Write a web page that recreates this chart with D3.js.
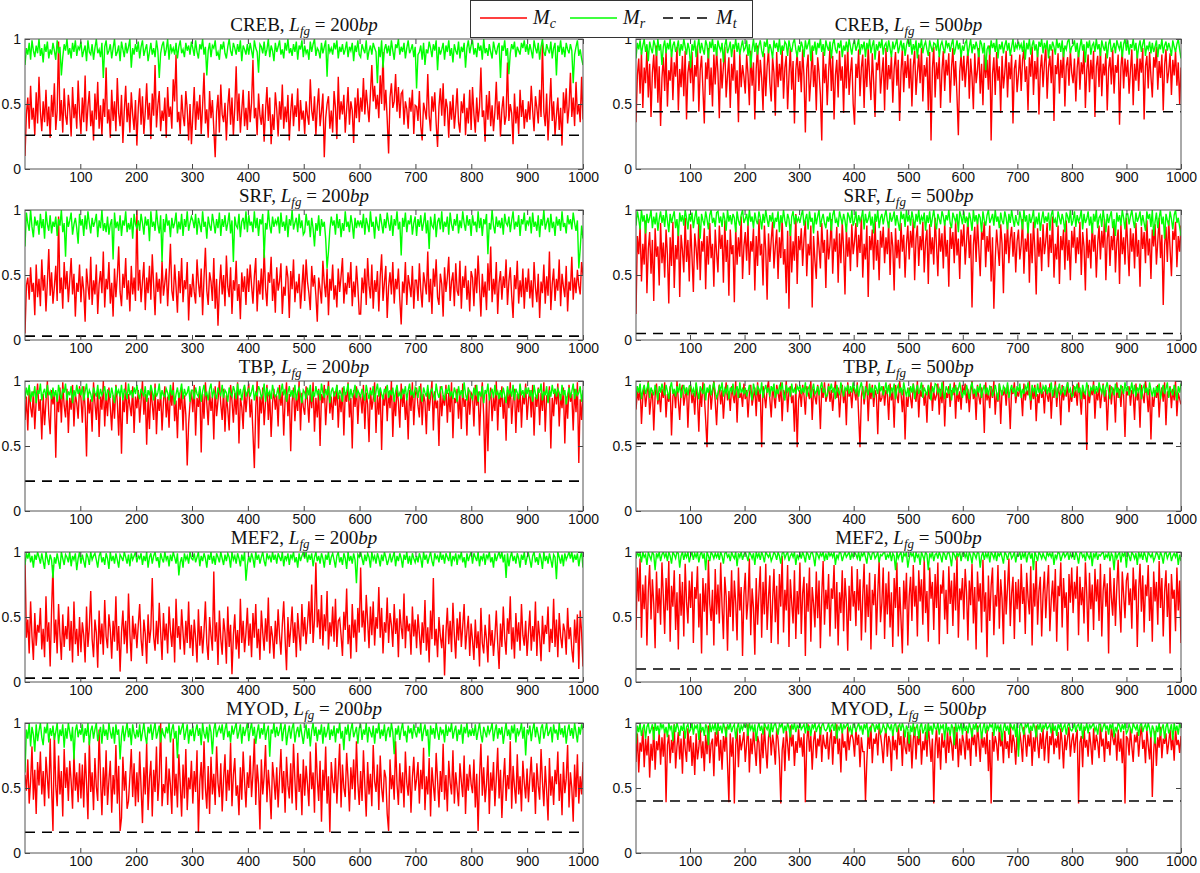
<!DOCTYPE html>
<html>
<head>
<meta charset="utf-8">
<script src="https://cdn.jsdelivr.net/npm/d3@7"></script>
<style>
  body { margin: 0; background: #fff; }
  .tick text { font-family: "Liberation Sans", Arial, sans-serif; font-size: 14px; fill: #111; }
  .tick line { stroke: #444; }
  .title, .legend-label { font-family: "Liberation Serif", "DejaVu Serif", serif; fill: #111; }
</style>
</head>
<body>
<div id="chart"></div>
<script>
const genes = ["CREB", "SRF", "TBP", "MEF2", "MYOD"];
const fgLengths = [200, 500];
const xTicks = [100, 200, 300, 400, 500, 600, 700, 800, 900, 1000];
const yTicks = [0, 0.5, 1];

// M_t threshold per gene, for L_fg = 200 and 500
const mtLen200 = [0.26, 0.03, 0.23, 0.03, 0.16];
const mtLen500 = [0.44, 0.05, 0.52, 0.10, 0.40];

// M_c (red) and M_r (green), in percent,
// 400 samples spread evenly over 1..1000 (one row = 100 units of x)
const mcCreb200 = [10,42,55,31,64,38,47,26,59,35,71,44,29,52,36,61,33,48,24,57,40,66,30,45,98,37,53,28,62,41,34,57,46,25,63,39,50,31,68,43,
27,55,36,72,29,48,60,33,45,22,58,38,67,31,49,26,54,40,78,35,46,24,61,37,52,29,70,43,33,57,20,45,64,36,51,28,59,42,30,53,
18,47,62,34,56,27,44,66,38,51,23,58,41,80,32,49,60,29,45,37,55,24,63,40,48,31,69,52,88,36,44,27,57,41,33,60,46,22,50,19,
41,63,30,52,38,57,27,49,74,35,46,24,60,39,53,31,9,44,57,28,65,42,36,51,22,48,62,34,55,26,47,79,37,58,28,45,61,33,47,30,
60,36,51,84,39,47,26,58,41,34,50,21,45,63,37,55,19,42,30,59,46,25,52,38,65,31,48,36,57,22,44,58,33,49,40,62,29,53,38,45,
27,52,41,34,69,45,37,56,26,48,62,33,44,58,9,39,50,56,31,45,28,60,47,23,71,38,52,42,57,28,46,63,34,52,45,20,55,39,62,36,
55,44,70,42,61,48,36,58,80,52,64,46,57,39,72,50,90,45,61,38,12,55,66,47,52,73,44,63,39,58,60,34,52,46,31,55,44,61,27,49,
48,37,60,33,22,51,45,38,73,41,29,56,44,59,35,17,48,62,41,66,33,54,47,24,52,38,57,31,45,62,36,28,52,43,58,26,47,35,61,30,
63,42,28,55,36,48,78,40,45,21,57,38,60,33,49,29,44,67,38,52,25,46,56,34,41,82,37,50,43,19,58,35,48,27,61,40,53,31,46,36,
52,38,64,45,29,56,47,35,61,40,97,44,33,58,22,46,70,37,52,26,41,55,30,47,18,59,43,62,35,48,74,40,55,33,67,42,50,36,71,38];
const mrCreb200 = [80,93,88,97,84,99,91,86,95,89,100,87,93,82,96,90,98,85,92,88,97,91,84,99,89,94,72,86,96,91,100,88,93,85,97,90,99,87,94,92,
98,86,91,95,83,99,90,88,96,84,93,100,89,92,86,97,70,94,99,88,91,96,85,93,100,87,90,95,83,98,92,86,97,89,94,100,78,93,88,96,
90,98,85,94,99,87,92,96,83,90,97,88,93,86,99,91,70,89,95,98,87,92,100,84,96,90,93,88,97,85,94,99,89,92,86,97,91,95,88,98,
93,87,99,90,85,96,92,100,88,94,72,91,97,86,95,93,99,87,90,84,96,92,98,89,85,94,100,91,87,97,93,88,96,90,99,83,95,92,88,96,
88,97,91,85,99,93,90,74,96,94,89,98,87,92,100,86,95,91,83,97,90,94,99,88,92,85,97,91,100,89,93,87,96,90,98,84,95,92,99,86,
95,89,92,84,98,90,96,100,87,93,91,85,97,89,94,99,71,96,90,93,88,97,92,99,85,94,90,96,88,92,98,86,94,91,97,83,95,90,99,88,
86,96,92,89,99,84,91,95,88,97,93,90,66,94,86,99,78,92,96,89,95,87,99,91,84,96,93,100,88,94,90,97,85,93,99,89,92,96,86,94,
62,88,90,95,84,97,80,92,89,98,93,86,96,91,99,76,94,88,92,97,84,95,90,99,87,93,82,96,91,88,98,85,94,90,97,78,93,99,89,95,
99,88,93,86,97,91,95,84,100,89,93,87,96,90,85,98,92,88,94,97,70,95,91,99,87,93,73,89,96,92,98,86,94,91,88,97,93,99,90,96,
88,96,91,85,99,93,89,97,84,94,100,90,87,96,92,89,98,85,93,97,72,95,90,99,88,94,86,97,92,89,96,91,66,88,94,99,87,92,85,80];

const mcCreb500 = [36,72,85,58,90,47,78,66,93,55,81,40,74,88,62,95,51,79,33,70,86,60,92,48,76,68,89,53,82,71,94,45,77,63,87,56,91,38,74,83,
66,90,52,80,71,95,44,76,87,61,35,82,69,93,57,78,48,88,65,91,74,39,85,62,79,94,55,72,86,47,81,68,92,58,76,36,89,63,80,71,
58,88,73,49,91,64,82,38,77,95,60,84,70,45,89,56,79,92,66,52,86,74,41,90,63,81,68,94,54,78,87,46,72,93,61,83,35,76,89,67,
83,59,92,71,28,77,88,52,69,94,63,80,45,86,74,57,22,90,66,81,49,75,93,60,87,38,72,84,55,91,68,79,43,88,62,95,57,74,86,50,
34,81,70,92,56,78,88,47,85,63,94,72,53,89,67,40,82,76,91,58,73,86,45,93,61,80,69,87,51,77,90,64,84,37,75,92,59,83,70,88,
62,85,48,79,91,57,74,88,66,93,52,80,71,86,45,90,22,77,94,55,82,69,87,47,76,91,60,84,72,89,51,78,93,64,83,56,26,75,88,68,
87,63,79,92,54,85,71,46,89,66,76,93,58,81,49,88,70,84,61,95,22,73,86,57,90,68,79,43,87,62,74,91,55,82,69,88,35,77,84,59,
73,88,60,84,92,67,79,45,86,71,94,57,83,69,90,42,76,88,63,81,95,54,78,87,66,92,37,80,73,89,58,84,70,93,48,79,86,64,91,74,
66,85,52,78,90,61,82,73,94,47,76,88,59,84,69,91,40,79,87,63,93,56,81,72,89,45,77,86,65,92,58,80,74,88,34,78,91,62,85,71,
84,58,76,92,49,81,68,89,60,85,74,93,38,79,87,62,90,71,55,86,78,94,61,83,70,88,45,80,92,66,75,89,57,84,72,91,64,82,50,78];
const mrCreb500 = [85,97,92,99,88,95,100,90,96,83,98,93,89,99,95,87,100,91,96,80,94,99,89,97,92,100,86,95,98,90,93,99,87,96,91,100,94,88,97,92,
78,96,91,99,86,94,100,89,97,92,88,99,95,85,98,93,100,90,96,87,99,94,91,97,82,95,100,89,93,98,86,96,92,100,90,97,88,94,99,91,
93,99,87,96,78,92,100,90,97,88,95,99,91,86,98,94,100,89,96,92,85,99,93,97,90,100,88,95,91,98,96,87,99,93,90,97,100,92,86,95,
90,98,94,86,99,92,96,100,83,95,91,98,88,97,93,100,90,96,87,99,94,91,98,85,96,100,92,89,97,93,99,86,95,91,98,90,100,94,88,96,
99,91,95,100,88,96,93,98,86,97,92,100,89,95,99,84,96,91,98,93,100,88,95,97,90,99,93,86,98,92,96,100,89,94,99,91,97,87,95,100,
94,100,88,96,91,99,85,97,93,100,89,95,98,92,87,99,94,90,97,96,91,100,86,95,98,93,89,99,94,97,90,96,100,88,93,99,92,97,86,95,
91,97,99,87,94,100,89,96,92,98,93,86,99,96,89,97,76,92,95,88,99,93,97,90,100,85,96,92,98,89,95,99,91,97,87,94,100,90,96,93,
98,93,96,90,99,84,97,92,100,88,95,99,91,96,86,98,94,100,89,97,92,99,85,96,91,98,94,88,100,93,97,90,99,86,95,92,98,100,89,94,
95,99,90,97,86,94,100,91,96,82,98,93,99,88,95,97,90,100,92,96,87,99,94,91,98,85,96,100,90,93,97,89,99,95,92,98,86,96,100,91,
99,88,96,93,100,91,97,85,94,99,90,96,100,87,95,92,98,89,97,90,94,99,86,96,92,100,89,95,98,91,97,93,87,99,94,90,96,100,92,85];

const mcSrf200 = [5,42,48,31,56,37,44,19,58,33,47,26,62,38,50,22,45,70,34,52,28,41,57,30,95,36,48,24,60,39,53,29,46,63,35,51,18,44,37,58,
29,49,38,14,55,42,31,64,27,46,35,58,20,43,53,36,68,25,47,39,60,28,44,18,55,33,49,72,37,26,51,40,63,31,46,22,57,35,48,30,
100,38,54,29,45,60,23,48,36,57,31,66,42,19,52,37,47,28,61,34,44,55,26,49,74,38,30,58,41,21,53,36,63,29,46,39,60,15,43,33,
51,37,28,62,44,33,55,19,48,71,38,27,52,45,30,63,24,47,11,40,58,35,50,26,65,41,33,56,20,46,38,61,30,43,16,52,37,49,27,55,
37,58,42,28,49,63,22,46,35,55,31,70,40,26,52,44,64,30,47,21,56,38,45,59,20,41,34,57,48,17,53,39,62,29,45,36,51,24,40,58,
30,62,45,36,23,57,41,50,34,14,48,39,28,61,44,33,55,19,47,38,58,31,42,25,55,37,49,63,28,44,35,52,40,60,26,45,33,57,41,20,
20,48,36,55,27,63,42,32,58,24,46,37,53,22,49,66,30,44,57,17,41,52,35,60,28,47,39,55,31,12,45,36,60,27,50,42,33,57,24,46,
46,30,59,38,25,52,44,35,68,29,47,20,55,41,62,33,27,51,43,18,56,37,48,64,30,45,52,26,59,38,34,61,24,49,40,57,31,46,22,53,
48,26,55,36,65,41,18,51,33,45,23,59,38,72,29,47,35,60,20,44,53,31,49,40,62,27,45,56,34,17,50,39,61,28,46,33,55,24,48,37,
55,32,46,25,60,40,29,51,17,45,36,58,28,49,34,68,23,43,55,30,47,38,62,26,51,41,33,57,22,45,38,64,31,48,36,54,42,35,60,50];
const mrSrf200 = [72,98,90,84,100,87,79,95,88,92,81,97,86,93,78,99,89,84,96,82,91,87,95,80,93,88,100,83,90,64,95,87,92,98,81,89,94,86,74,97,
88,93,80,96,85,99,90,82,94,87,91,97,79,92,86,100,84,90,83,95,81,89,93,62,98,86,91,84,96,80,92,88,99,83,90,85,94,78,97,89,
86,92,84,97,90,81,95,88,93,76,99,87,91,84,100,89,82,96,60,93,83,97,88,92,79,94,86,90,98,82,91,85,97,80,93,87,99,84,90,95,
92,86,97,81,94,89,83,99,87,91,78,95,88,84,97,90,82,93,86,98,80,93,87,96,84,90,98,82,92,60,95,88,86,97,79,91,94,85,99,83,
96,88,91,83,99,86,94,80,93,89,97,63,90,85,100,88,82,95,87,92,89,95,82,98,87,91,84,96,79,93,88,100,85,90,94,83,97,86,92,81,
83,97,88,92,79,94,86,72,90,84,96,80,93,87,91,78,55,68,85,95,88,92,81,97,86,93,79,90,84,99,87,91,83,96,89,78,94,86,92,88,
92,86,97,81,94,89,83,99,87,91,78,95,88,84,97,90,82,93,86,98,90,84,96,80,93,88,99,85,91,65,94,87,98,83,92,89,96,81,90,95,
80,93,87,96,84,90,98,82,92,70,95,88,86,97,79,91,94,85,99,83,91,87,95,81,98,89,84,93,88,97,82,92,86,99,90,84,96,88,93,80,
96,88,91,83,99,86,94,80,93,89,97,66,90,85,100,88,82,95,87,92,86,94,81,97,90,88,95,83,92,99,85,91,87,96,80,93,89,98,84,92,
89,95,82,98,87,91,84,96,79,93,88,100,85,90,94,83,97,86,91,80,95,88,93,84,99,87,90,82,96,89,93,85,98,90,84,92,55,70,88,78];

const mcSrf500 = [20,80,66,88,45,74,58,92,36,70,83,51,77,30,86,64,72,42,90,59,75,48,85,66,28,79,57,91,40,73,62,87,33,81,69,52,94,60,77,45,
89,64,37,82,71,54,93,46,76,68,86,39,80,58,90,63,74,41,85,67,52,88,70,81,44,92,60,77,34,85,66,73,29,87,58,79,64,95,47,72,
83,61,90,50,76,68,86,38,80,57,93,65,74,42,88,69,31,82,60,77,91,55,72,85,47,79,63,94,58,70,36,84,24,89,52,76,61,97,43,80,
69,86,57,78,92,49,74,65,88,25,80,61,47,84,71,55,90,67,77,40,85,62,73,93,51,78,68,87,44,82,59,91,70,35,86,64,79,53,89,66,
76,90,56,81,67,95,48,74,62,88,33,80,69,85,54,92,61,77,46,84,71,87,59,79,66,91,50,83,72,38,86,63,77,55,90,68,81,48,74,88,
62,84,71,93,46,78,88,57,80,69,91,52,76,85,43,89,66,79,58,94,73,49,86,68,82,55,90,64,77,41,87,70,83,59,92,65,78,47,85,72,
89,58,76,94,63,81,25,73,87,60,92,70,49,84,77,91,56,80,68,88,45,79,24,62,85,71,57,89,74,36,82,66,90,59,78,87,64,83,52,76,
85,62,73,93,51,78,68,87,44,82,59,91,70,35,86,64,79,53,89,66,76,90,56,81,67,95,48,74,62,88,43,80,69,85,54,92,61,77,46,84,
71,87,59,79,66,91,50,83,72,38,86,63,77,55,90,68,81,48,74,88,62,84,71,93,46,78,88,57,80,69,91,52,76,85,43,89,66,79,58,94,
73,49,86,68,82,55,90,64,77,41,87,70,83,59,92,65,78,47,85,72,89,58,76,94,63,81,27,73,87,60,92,70,49,84,77,91,56,80,68,88];
const mrSrf500 = [88,99,93,85,100,91,96,82,97,90,94,100,86,95,89,98,84,93,99,90,96,87,100,92,83,97,90,95,99,86,93,80,98,91,96,88,100,94,85,97,
91,98,86,94,100,89,95,78,97,92,88,99,93,85,96,100,90,94,87,98,99,90,95,87,98,93,84,100,91,96,89,97,94,83,99,92,88,96,100,90,
93,97,88,100,91,95,86,98,92,89,99,94,85,97,90,100,93,87,96,91,98,86,94,91,99,83,96,90,100,92,87,97,93,80,95,99,89,96,91,94,
90,96,100,88,93,97,85,99,91,94,82,98,89,95,100,87,93,97,90,86,95,91,98,84,96,100,90,93,87,99,94,89,97,92,83,98,95,90,100,88,
92,99,87,96,91,94,100,85,97,90,93,99,88,95,82,97,91,100,86,94,97,89,95,100,92,86,98,91,94,99,88,96,90,84,99,93,97,87,100,91,
96,88,99,93,86,97,91,100,89,95,92,98,84,96,90,99,87,94,100,91,85,97,93,89,99,95,88,96,92,100,90,86,98,94,91,97,83,99,95,89,
99,90,95,87,98,93,84,100,91,96,89,97,94,83,99,92,88,96,100,90,93,97,88,100,91,95,86,98,92,89,99,94,85,97,90,100,93,87,96,91,
88,99,93,85,100,91,96,82,97,90,94,100,86,95,89,98,84,93,99,90,95,91,98,84,96,100,90,93,87,99,94,89,97,92,83,98,95,90,100,88,
92,99,87,96,91,94,100,85,97,90,93,99,88,95,82,97,91,100,86,94,96,87,100,92,83,97,90,95,99,86,93,80,98,91,96,88,100,94,85,97,
97,89,95,100,92,86,98,91,94,99,88,96,90,84,99,93,97,87,100,80,91,98,86,94,100,89,95,78,97,92,88,99,93,85,96,100,90,94,87,80];

const mcTbp200 = [70,88,62,95,80,72,92,63,85,98,77,86,55,90,66,84,100,74,59,93,82,91,41,88,76,95,68,99,81,72,94,60,87,78,97,65,90,83,71,96,
87,68,96,79,42,91,75,86,61,99,83,70,94,57,88,78,100,65,90,73,95,80,62,89,71,97,84,58,92,44,86,76,99,67,90,81,73,96,60,88,
79,93,68,85,100,74,90,51,87,63,95,82,70,98,59,86,77,91,62,84,96,72,88,64,93,81,99,69,85,56,91,78,95,62,89,74,35,67,83,92,
76,97,58,87,80,94,45,90,71,99,83,66,92,77,88,55,96,73,85,100,82,70,94,61,89,78,62,97,85,68,91,74,99,52,87,80,63,95,76,90,
98,72,86,60,33,79,100,48,88,75,95,66,84,97,70,90,57,83,94,78,89,65,97,81,92,58,86,99,73,90,46,84,95,69,88,77,100,62,91,80,
74,96,85,68,93,79,99,61,87,72,94,50,90,83,97,66,86,100,75,88,70,92,81,97,64,89,76,95,58,91,84,99,72,87,48,93,80,96,67,90,
88,75,97,63,91,82,53,95,78,86,99,60,89,74,94,47,87,81,96,69,92,79,100,57,88,73,95,84,64,98,80,91,70,86,55,93,77,99,66,89,
95,81,72,98,66,90,84,59,94,77,88,100,62,92,79,85,50,96,73,89,81,97,68,91,76,99,56,87,83,94,71,90,63,98,80,86,58,95,74,91,
89,65,97,81,92,58,86,99,73,29,90,46,84,95,69,88,77,100,62,91,80,96,71,88,54,93,79,99,67,85,94,60,90,76,97,64,89,82,98,70,
86,93,72,97,58,88,80,95,66,91,77,99,61,89,84,96,48,87,73,94,82,98,65,90,79,95,52,88,71,97,84,90,62,94,76,99,37,86,70,92];
const mrTbp200 = [86,95,89,97,84,92,88,96,83,93,90,98,85,91,94,87,97,89,92,86,95,88,93,84,97,90,86,94,91,98,85,92,89,96,83,93,88,97,90,94,
89,96,85,92,98,87,93,90,84,95,91,88,97,86,94,89,92,96,85,93,92,87,95,89,83,96,90,93,88,97,85,94,91,86,98,89,93,87,95,90,
97,90,86,94,91,88,96,84,93,89,97,92,85,95,88,91,98,86,93,89,88,94,91,85,97,89,93,82,90,95,87,92,98,86,94,89,91,96,84,93,
93,86,95,90,88,96,84,92,97,89,91,85,94,98,87,93,90,86,95,91,89,97,87,93,91,84,95,90,88,96,92,86,98,89,94,85,93,97,88,92,
94,88,92,97,85,91,89,96,93,87,90,98,84,95,89,92,86,97,91,88,90,95,86,92,98,89,94,84,91,96,88,93,87,97,85,92,95,89,83,93,
91,86,95,89,97,84,92,88,96,90,93,85,98,91,87,94,89,96,83,92,95,88,91,97,86,93,90,84,96,89,92,98,85,94,88,91,97,87,93,90,
88,94,90,85,97,91,86,93,89,96,84,92,98,88,95,90,86,94,91,97,87,93,89,95,84,92,97,88,91,86,94,90,96,85,93,98,89,92,87,95,
93,87,96,90,84,95,91,88,97,86,92,94,89,85,98,91,87,93,96,89,85,94,90,97,88,92,86,95,91,84,96,89,93,87,99,90,85,94,92,88,
86,95,89,97,84,92,88,96,83,93,90,98,85,91,94,87,97,89,92,86,93,87,95,89,83,96,90,93,88,97,85,94,91,86,98,89,93,87,95,90,
95,88,93,84,97,90,86,94,91,98,85,92,89,96,83,93,88,97,90,94,88,94,91,85,97,89,93,82,90,95,87,92,98,86,94,89,91,96,84,93];

const mcTbp500 = [78,92,85,97,67,88,95,80,90,100,74,86,93,62,89,98,82,91,76,94,87,99,72,90,84,96,58,88,93,79,100,85,70,92,97,81,89,95,64,91,
96,83,91,74,98,87,61,93,80,99,89,70,49,86,97,78,91,100,84,66,90,97,82,93,71,88,99,85,92,77,96,89,83,100,68,94,87,91,80,98,
86,93,72,90,97,81,88,95,73,99,84,91,49,96,89,79,94,100,86,72,95,88,79,97,91,84,99,69,93,87,100,76,92,96,83,89,61,98,49,85,
93,80,97,89,74,96,91,86,100,70,94,88,82,97,90,63,95,87,99,84,89,98,84,93,77,91,100,87,95,72,90,97,83,94,66,99,88,92,79,96,
92,85,99,73,49,88,96,82,91,100,69,94,86,97,80,93,89,59,95,84,87,96,81,93,90,70,98,85,92,64,97,89,83,100,91,76,94,55,88,80,
95,87,79,98,90,84,100,72,93,88,97,81,91,68,96,86,99,77,92,85,89,98,74,94,83,100,65,91,87,96,80,93,89,99,71,95,84,92,78,97,
90,98,83,94,76,91,100,86,93,70,97,88,82,95,90,60,99,85,92,79,96,87,100,74,91,84,98,67,93,89,95,81,97,88,63,94,90,99,83,92,
88,95,91,73,98,85,93,89,100,78,94,86,97,69,90,83,99,87,92,75,96,89,84,98,71,93,87,100,80,95,90,66,97,85,93,88,99,76,91,84,
97,87,93,81,99,89,74,95,86,91,47,97,83,94,89,100,71,92,85,96,79,90,98,84,93,62,88,97,82,95,91,68,99,87,94,80,96,89,57,93,
89,96,81,93,90,70,98,85,92,64,97,89,83,100,91,76,94,55,88,80,93,87,97,72,90,95,84,99,66,92,88,96,79,94,85,100,73,91,86,82];
const mrTbp500 = [88,96,91,98,86,93,97,90,94,99,87,95,92,89,97,93,85,96,91,98,93,89,97,92,86,95,99,90,94,88,96,91,98,87,93,97,90,95,89,96,
97,91,94,88,99,92,86,96,93,90,98,85,95,91,97,89,94,99,92,87,90,96,93,99,88,94,91,97,86,95,92,98,89,93,96,87,99,91,94,90,
95,88,92,97,91,85,98,93,89,96,94,90,99,87,93,97,91,95,88,96,92,98,87,94,90,96,93,99,89,85,97,92,95,88,98,91,94,90,96,93,
97,90,95,91,99,88,94,96,87,93,98,90,92,96,89,95,99,91,94,88,89,96,93,98,91,95,86,97,92,90,99,94,88,95,93,97,90,96,91,99,
94,91,97,88,95,99,92,86,96,93,89,98,91,95,87,97,94,90,99,92,96,89,93,99,90,97,88,95,92,98,86,94,97,91,95,89,99,93,88,95,
88,96,91,98,86,93,97,90,94,99,87,95,92,89,97,93,85,96,91,98,97,91,94,88,99,92,86,96,93,90,98,85,95,91,97,89,94,99,92,87,
93,89,97,92,86,95,99,90,94,88,96,91,98,87,93,97,90,95,89,96,95,88,92,97,91,85,98,93,89,96,94,90,99,87,93,97,91,95,88,96,
92,98,87,94,90,96,93,99,89,85,97,92,95,88,98,91,94,90,96,93,97,90,95,91,99,88,94,96,87,93,98,90,92,96,89,95,99,91,94,88,
89,96,93,98,91,95,86,97,92,90,99,94,88,95,93,97,90,96,91,99,94,91,97,88,95,99,92,86,96,93,89,98,91,95,87,97,94,90,99,92,
96,89,93,99,90,97,88,95,92,98,86,94,97,91,95,89,99,93,88,95,88,96,91,98,86,93,97,90,94,99,87,95,92,89,97,93,85,96,91,98];

const mcMef200 = [95,34,48,22,62,35,17,53,28,44,38,57,25,41,19,66,31,46,12,55,90,30,48,22,60,36,17,52,27,43,33,58,24,47,15,62,29,41,20,50,
23,46,36,15,58,27,42,70,33,19,48,38,11,55,29,45,21,63,35,26,52,40,18,47,31,66,24,43,8,38,55,29,47,22,68,37,16,51,33,45,
26,44,60,33,20,48,37,14,52,30,41,80,35,24,47,29,61,38,17,53,32,45,22,58,39,27,49,15,64,34,43,25,56,38,21,47,30,62,26,44,
20,48,34,15,56,28,43,22,39,62,30,17,50,36,24,85,31,46,13,55,33,21,49,38,14,58,27,44,6,36,52,25,40,18,64,30,47,23,38,57,
28,45,19,53,34,60,26,41,17,55,38,24,49,31,65,22,43,35,18,47,29,56,36,21,44,62,33,9,50,27,41,58,30,46,19,53,37,24,60,35,
50,29,44,62,37,75,30,48,92,42,56,33,67,28,52,39,70,25,46,35,58,31,64,27,47,49,36,20,54,40,72,29,44,18,60,34,48,23,57,38,
88,42,55,31,67,47,26,58,36,62,28,50,41,73,34,57,22,46,38,65,30,53,44,27,60,37,49,19,56,42,33,68,26,51,39,45,21,58,35,48,
26,52,37,21,46,30,63,24,42,15,55,33,80,28,41,19,50,35,26,44,5,38,57,29,47,23,61,36,18,49,32,54,27,43,60,25,39,51,20,45,
32,17,48,26,39,12,57,30,22,44,33,15,52,28,40,20,35,55,30,10,45,27,58,34,21,49,37,66,25,42,18,53,31,46,24,60,36,28,47,20,
38,55,24,43,31,62,20,47,35,16,51,29,44,37,58,23,41,30,64,27,48,19,53,35,26,45,39,21,57,33,42,25,15,48,30,52,10,55,38,12];
const mrMef200 = [90,99,95,100,92,97,88,98,94,100,96,91,99,93,87,100,95,90,98,94,80,96,91,99,93,87,100,95,90,98,96,92,100,89,97,94,99,86,95,100,
91,98,93,88,99,96,90,100,94,97,99,94,88,97,100,92,96,90,99,95,87,100,93,97,91,99,94,88,98,96,93,100,96,91,98,89,99,94,97,100,
92,97,95,99,90,97,93,100,88,96,99,91,97,100,93,96,88,99,95,92,100,94,97,89,98,93,100,96,91,99,82,92,96,88,99,94,97,91,100,95,
94,99,92,96,100,89,97,93,99,95,88,98,94,100,91,97,90,99,96,92,100,95,90,98,93,99,96,88,100,94,97,91,99,95,89,98,93,100,78,90,
97,92,99,95,88,100,94,98,91,96,100,93,89,99,95,97,92,100,94,98,91,99,96,93,100,89,97,94,99,90,98,95,100,92,96,88,99,93,97,100,
95,100,92,98,94,99,89,96,100,93,97,91,99,95,88,98,94,100,90,96,99,94,88,97,100,92,96,90,99,95,87,100,93,97,91,99,94,76,98,96,
100,95,90,98,93,99,96,88,100,94,97,91,99,95,89,98,93,100,96,90,94,99,92,96,100,89,97,93,99,95,88,98,94,100,91,97,90,99,95,92,
97,92,99,95,88,100,94,98,91,96,100,93,89,99,95,97,92,100,94,98,91,99,96,93,100,89,97,94,99,90,98,95,100,92,96,88,99,93,97,100,
91,99,96,93,100,89,97,94,99,90,98,95,100,92,96,88,99,93,97,100,95,100,92,98,80,99,89,96,100,93,97,91,99,95,88,98,94,100,90,96,
99,94,88,97,100,92,96,90,99,95,87,100,93,97,91,99,94,88,98,96,79,100,96,91,98,89,99,94,97,100,95,100,92,98,94,99,89,96,100,88];

const mcMef500 = [40,88,62,95,34,75,56,82,28,70,90,48,79,60,26,85,53,72,44,92,66,37,80,55,93,31,74,58,86,40,69,25,83,51,77,35,91,62,45,78,
57,85,30,73,64,89,42,68,22,80,54,76,36,94,60,47,71,28,87,52,75,45,92,58,33,81,66,24,70,50,86,39,78,61,32,88,55,73,20,67,
84,48,63,95,36,72,57,21,80,44,68,89,34,77,52,91,40,65,82,30,62,87,46,74,29,83,58,97,38,71,55,90,27,79,61,45,86,33,70,52,
92,37,68,81,20,76,54,88,31,73,60,42,85,49,78,26,67,93,44,71,56,83,35,72,64,90,41,77,28,69,53,86,39,80,62,24,74,47,89,58,
70,43,87,55,79,32,66,91,38,75,50,84,25,71,59,83,36,68,94,46,61,88,33,76,52,85,42,69,27,80,57,92,35,73,48,22,78,56,84,28,
66,81,47,90,58,74,35,86,62,79,44,95,53,70,31,88,64,77,40,83,57,92,29,75,68,86,48,71,37,89,60,78,43,84,55,97,34,72,63,80,
48,87,69,32,78,59,91,45,73,25,85,62,76,38,94,54,69,19,82,47,74,88,36,67,58,90,41,79,64,29,86,52,73,95,43,68,81,33,77,56,
79,46,91,60,73,37,84,65,52,89,28,76,58,93,44,70,81,35,67,85,49,72,90,39,63,78,54,87,31,74,66,92,42,80,57,69,24,83,61,88,
53,77,64,89,36,81,59,73,45,92,68,31,84,56,75,40,87,62,79,47,91,35,70,83,58,76,22,88,65,51,80,43,73,94,60,38,85,67,49,78,
84,59,72,41,88,63,79,27,70,91,54,82,38,75,66,90,47,73,31,85,62,77,44,93,57,80,35,69,86,50,76,22,83,64,71,39,88,55,78,30];
const mrMef500 = [95,100,97,99,92,100,96,98,90,100,97,94,100,98,86,99,96,100,93,98,100,96,99,93,100,97,91,100,98,95,100,99,88,97,100,94,99,96,100,92,
97,100,94,99,96,100,92,98,100,95,99,86,100,97,93,100,98,95,99,96,99,94,100,97,91,99,100,96,98,93,100,97,95,100,89,99,96,100,94,98,
100,97,93,100,98,95,99,90,100,96,99,94,100,97,92,100,98,96,99,93,96,100,98,94,100,97,91,99,100,95,98,100,93,97,99,96,100,90,98,95,
99,95,100,97,92,100,98,94,99,100,96,89,100,98,95,99,97,100,93,99,94,100,97,99,96,100,90,98,95,100,99,93,97,100,96,98,100,94,99,96,
100,98,95,100,93,99,97,100,96,91,100,98,94,99,100,95,97,100,92,98,97,99,100,94,98,96,100,93,99,97,86,100,95,98,100,92,99,97,100,88,
95,100,97,99,92,100,96,98,90,100,97,94,100,98,86,99,96,100,93,98,99,95,100,97,92,100,98,94,99,100,96,89,100,98,95,99,97,100,93,99,
100,96,99,93,100,97,91,100,98,95,100,99,88,97,100,94,99,96,100,92,100,98,95,100,93,99,97,100,96,91,100,98,94,99,100,95,97,100,92,98,
97,100,94,99,96,100,92,98,100,95,99,86,100,97,93,100,98,95,99,96,94,100,97,99,96,100,90,98,95,100,99,93,97,100,96,98,100,94,99,96,
99,94,100,97,91,99,100,96,98,93,100,97,95,100,89,99,96,100,94,98,97,99,100,94,98,96,100,93,99,97,86,100,95,98,100,92,99,97,100,88,
100,97,93,100,98,95,99,90,100,96,99,94,100,97,92,100,98,96,99,93,96,100,98,94,100,97,91,99,100,95,98,100,93,97,99,96,100,90,98,93];

const mcMyod200 = [60,48,72,38,55,82,41,64,30,70,52,78,45,63,36,74,58,42,88,50,17,92,52,36,75,45,63,28,80,50,66,40,71,55,34,77,48,62,39,69,
42,68,35,77,54,26,86,47,62,33,73,51,40,95,58,29,66,44,79,37,56,71,31,60,45,83,38,67,17,27,74,48,63,34,40,59,80,43,69,36,
62,39,78,50,23,66,45,85,33,57,71,28,64,47,82,40,58,100,36,53,46,74,37,65,52,30,88,44,61,35,76,53,28,68,42,80,33,58,49,71,
38,63,47,79,16,55,70,41,86,50,34,67,30,74,45,61,37,82,54,43,69,32,57,76,40,64,48,85,36,60,73,44,52,29,66,41,78,55,35,62,
50,75,43,61,88,37,68,53,18,72,45,59,83,39,64,48,26,70,57,41,66,35,58,80,46,63,31,74,52,42,69,38,84,56,33,77,47,61,29,72,
44,67,53,36,78,49,62,31,85,57,40,71,24,64,48,82,38,59,16,70,55,46,73,38,61,84,35,68,50,43,77,57,32,66,49,72,41,86,54,37,
63,40,79,52,28,70,45,61,36,83,55,47,68,33,75,50,39,64,58,30,17,72,49,60,41,86,53,37,69,46,62,35,78,54,44,67,31,58,74,48,
57,70,38,64,49,81,33,59,45,73,28,66,52,40,77,56,35,63,47,84,41,60,32,71,54,45,79,38,62,50,36,69,55,43,75,30,61,48,68,53,
46,72,35,61,17,58,84,44,66,39,53,75,30,62,48,70,36,57,81,42,64,27,55,73,40,60,49,86,34,67,51,38,76,45,59,32,71,54,42,65,
39,58,74,47,62,30,69,52,41,80,55,36,67,48,25,73,44,59,37,64,53,78,40,61,29,70,46,57,83,35,62,50,24,68,43,76,38,59,45,70];
const mrMyod200 = [62,95,88,100,82,97,91,78,99,86,94,100,89,83,97,92,100,85,96,90,98,87,93,100,84,95,90,99,81,96,88,100,93,86,97,72,94,99,89,95,
91,99,85,96,90,100,83,94,98,88,95,100,86,92,97,84,99,90,95,87,100,93,88,97,84,99,91,95,72,90,98,86,94,100,89,96,83,99,92,88,
95,89,99,86,93,100,90,84,97,92,99,87,95,100,88,93,98,85,96,91,89,97,92,100,85,95,99,88,94,73,98,91,96,100,87,93,99,84,95,90,
98,86,94,99,90,96,83,100,92,88,97,85,99,93,76,95,100,89,94,97,92,99,87,95,100,89,94,85,98,91,96,100,88,93,99,84,97,90,95,100,
86,95,100,90,97,84,93,99,88,96,91,100,87,94,98,74,95,92,100,89,97,90,94,100,86,95,99,83,92,98,88,96,100,85,93,97,89,99,91,84,
93,99,88,96,82,94,100,90,97,86,95,91,99,84,97,89,93,100,87,95,90,98,85,96,92,100,88,94,79,97,91,99,86,95,100,89,93,97,84,96,
99,87,95,91,100,85,97,93,89,98,84,96,92,100,88,95,90,99,86,94,97,89,100,93,76,96,91,98,87,95,100,90,94,85,98,92,96,88,99,93,
89,97,92,100,86,94,99,90,95,74,98,91,96,88,100,93,87,97,92,95,85,99,90,96,93,100,88,94,98,86,95,91,99,84,97,92,100,89,95,90,
96,90,99,87,94,100,91,85,97,93,89,98,92,95,100,86,94,99,88,96,91,97,84,93,100,90,95,87,98,92,99,85,96,91,94,100,88,97,75,95,
92,98,86,95,100,89,97,91,84,96,99,88,94,100,90,93,97,85,99,92,95,87,100,91,96,89,98,84,94,99,90,96,88,100,93,85,97,91,99,95];

const mcMyod500 = [70,92,62,85,78,96,66,88,75,90,58,84,71,97,64,86,79,93,68,89,74,95,39,83,91,69,87,77,99,65,82,93,72,88,61,94,80,70,96,78,
90,67,85,60,92,72,81,95,73,86,63,91,76,98,69,84,88,59,93,82,95,71,87,64,90,78,97,68,39,92,74,89,38,83,96,66,91,79,86,93,
70,84,99,62,88,76,94,81,67,90,85,61,92,73,97,80,65,89,95,75,91,83,68,96,87,72,38,79,89,63,95,84,71,98,82,91,67,86,77,96,
81,89,74,92,39,85,99,78,90,64,86,94,73,88,82,97,70,91,83,80,93,72,87,95,68,90,84,99,76,88,62,94,81,86,71,97,79,89,92,87,
74,96,83,91,66,89,78,78,40,71,93,80,98,69,88,84,92,75,97,91,82,69,88,96,74,90,85,63,94,79,87,72,98,83,90,67,95,81,76,93,
78,91,65,87,97,72,90,83,95,68,86,79,93,74,99,85,70,88,38,82,96,73,89,64,92,81,87,69,95,77,90,84,71,97,80,93,66,88,75,91,
85,72,94,79,88,67,96,83,91,74,98,86,70,92,81,89,76,95,63,87,38,93,78,90,84,71,97,82,88,69,94,80,86,73,99,77,91,85,68,92,
79,93,84,70,97,88,74,91,82,95,67,89,78,98,85,73,92,80,96,71,87,94,69,90,83,99,76,88,81,93,72,96,85,65,91,79,89,97,74,86,
92,77,88,95,38,85,90,66,97,81,87,74,93,83,68,96,79,91,85,73,99,82,88,70,94,80,86,75,97,89,83,92,71,95,78,88,69,94,38,90,
88,75,96,82,70,91,85,93,74,89,98,80,87,69,95,83,72,92,43,78,94,67,89,81,97,73,88,84,92,76,85,95,79,90,71,96,83,87,77,90];
const mrMyod500 = [84,98,93,100,90,96,99,88,97,100,92,95,99,87,100,94,98,91,100,96,99,92,97,89,100,95,98,86,99,93,100,96,90,98,94,100,88,97,99,93,
95,100,91,98,96,99,87,100,94,97,90,99,96,83,100,93,98,95,100,91,100,94,98,92,100,96,89,99,95,100,93,97,99,88,96,100,92,98,95,99,
97,99,90,100,95,98,93,99,86,96,100,94,98,91,100,97,95,99,89,100,93,98,100,95,91,99,97,100,92,98,94,100,96,89,99,95,100,93,98,96,
100,95,97,99,92,100,94,98,90,99,96,100,93,97,99,91,98,100,95,94,96,100,93,98,99,94,100,88,97,95,100,92,99,96,98,100,94,97,91,99,
99,93,97,100,95,98,91,99,96,100,89,97,94,100,98,93,99,95,100,92,94,99,96,92,100,97,95,99,90,98,100,93,97,99,94,100,96,89,98,95,
84,98,93,100,90,96,99,88,97,100,92,95,99,87,100,94,98,91,100,96,95,100,91,98,96,99,87,100,94,97,90,99,96,83,100,93,98,95,100,91,
100,94,98,92,100,96,89,99,95,100,93,97,99,88,96,100,92,98,95,99,97,99,90,100,95,98,93,99,86,96,100,94,98,91,100,97,95,99,89,100,
74,98,100,95,91,99,97,100,92,98,94,100,96,89,99,95,100,93,98,96,100,95,97,99,92,100,94,98,90,99,96,100,93,97,99,91,98,100,95,94,
96,100,93,98,99,94,100,88,97,95,100,92,99,96,98,100,94,97,91,99,99,93,97,100,95,98,91,99,96,100,89,97,94,100,98,93,99,95,100,92,
94,99,96,92,100,97,95,99,90,98,100,93,97,99,94,100,96,89,98,95,84,98,93,100,90,96,99,88,97,100,92,95,99,87,100,94,98,91,100,96];

const mcSeries = [[mcCreb200, mcCreb500], [mcSrf200, mcSrf500], [mcTbp200, mcTbp500], [mcMef200, mcMef500], [mcMyod200, mcMyod500]];
const mrSeries = [[mrCreb200, mrCreb500], [mrSrf200, mrSrf500], [mrTbp200, mrTbp500], [mrMef200, mrMef500], [mrMyod200, mrMyod500]];

const width = 1200, height = 873;
const colLeft = [25, 636];
const colRight = [583, 1181];
const rowTop = 39, rowStep = 171, boxH = 130;

const svg = d3.select("#chart").append("svg")
  .attr("width", width)
  .attr("height", height);

function drawPanel(row, col) {
  const top = rowTop + row * rowStep;
  const bottom = top + boxH;
  const mc = mcSeries[row][col];
  const mr = mrSeries[row][col];
  const mt = (col === 0 ? mtLen200 : mtLen500)[row];

  const x = d3.scaleLinear().domain([1, 1000]).range([colLeft[col], colRight[col]]);
  const y = d3.scaleLinear().domain([0, 1]).range([bottom, top]);

  const g = svg.append("g");
  const clipId = `clip-${row}-${col}`;
  g.append("clipPath").attr("id", clipId)
    .append("rect")
    .attr("x", x(1)).attr("y", y(1))
    .attr("width", x(1000) - x(1)).attr("height", y(0) - y(1));

  const sampleX = (i, n) => 1 + i * 999 / (n - 1);
  const line = d3.line()
    .x((d, i, arr) => x(sampleX(i, arr.length)))
    .y(d => y(d / 100));

  const plot = g.append("g").attr("clip-path", `url(#${clipId})`);
  plot.append("path").datum(mc)
    .attr("fill", "none").attr("stroke", "#ff0000").attr("stroke-width", 1.4)
    .attr("d", line);
  plot.append("path").datum(mr)
    .attr("fill", "none").attr("stroke", "#00ff00").attr("stroke-width", 1.4)
    .attr("d", line);
  plot.append("line")
    .attr("x1", x(1)).attr("x2", x(1000))
    .attr("y1", y(mt)).attr("y2", y(mt))
    .attr("stroke", "#000").attr("stroke-width", 1.6)
    .attr("stroke-dasharray", "10,7");

  // axes with inward ticks, MATLAB style
  g.append("g").attr("transform", `translate(0,${bottom})`)
    .call(d3.axisBottom(x).tickValues(xTicks).tickSizeInner(-5).tickSizeOuter(0)
      .tickPadding(3).tickFormat(d3.format("d")))
    .call(a => a.select(".domain").remove());
  g.append("g").attr("transform", `translate(0,${top})`)
    .call(d3.axisTop(x).tickValues(xTicks).tickSizeInner(-5).tickSizeOuter(0).tickFormat(""))
    .call(a => a.select(".domain").remove());
  g.append("g").attr("transform", `translate(${x(1)},0)`)
    .call(d3.axisLeft(y).tickValues(yTicks).tickSizeInner(-5).tickSizeOuter(0)
      .tickPadding(4).tickFormat(String))
    .call(a => a.select(".domain").remove());
  g.append("g").attr("transform", `translate(${x(1000)},0)`)
    .call(d3.axisRight(y).tickValues(yTicks).tickSizeInner(-5).tickSizeOuter(0).tickFormat(""))
    .call(a => a.select(".domain").remove());

  g.append("rect")
    .attr("x", x(1)).attr("y", y(1))
    .attr("width", x(1000) - x(1)).attr("height", y(0) - y(1))
    .attr("fill", "none").attr("stroke", "#555").attr("stroke-width", 1);

  // title: GENE, L_fg = NNNbp
  const t = g.append("text").attr("class", "title")
    .attr("x", (x(1) + x(1000)) / 2).attr("y", top - 8)
    .attr("text-anchor", "middle").attr("font-size", 19);
  t.append("tspan").text(genes[row] + ", ");
  t.append("tspan").attr("font-style", "italic").text("L");
  t.append("tspan").attr("font-style", "italic").attr("font-size", 13).attr("dy", 4).text("fg");
  t.append("tspan").attr("dy", -4).text(" = " + fgLengths[col]);
  t.append("tspan").attr("font-style", "italic").text("bp");
}

for (let r = 0; r < genes.length; r++) {
  for (let c = 0; c < fgLengths.length; c++) drawPanel(r, c);
}

// legend
const legendItems = [
  { name: "M", sub: "c", color: "#ff0000", dash: null },
  { name: "M", sub: "r", color: "#00ff00", dash: null },
  { name: "M", sub: "t", color: "#000", dash: "10,7" }
];
const lg = svg.append("g").attr("transform", "translate(470,0)");
lg.append("rect").attr("x", 0.5).attr("y", 0.5).attr("width", 282).attr("height", 37)
  .attr("fill", "#fff").attr("stroke", "#333").attr("stroke-width", 1);
const itemX = [10, 100, 193];
legendItems.forEach((d, i) => {
  const gx = itemX[i];
  lg.append("line").attr("x1", gx).attr("x2", gx + 47).attr("y1", 18).attr("y2", 18)
    .attr("stroke", d.color).attr("stroke-width", d.dash ? 1.6 : 1.3)
    .attr("stroke-dasharray", d.dash);
  const tx = lg.append("text").attr("class", "legend-label")
    .attr("x", gx + 53).attr("y", 24).attr("font-size", 20).attr("font-style", "italic");
  tx.append("tspan").text(d.name);
  tx.append("tspan").attr("font-size", 14).attr("dy", 4).text(d.sub);
});
</script>
</body>
</html>
